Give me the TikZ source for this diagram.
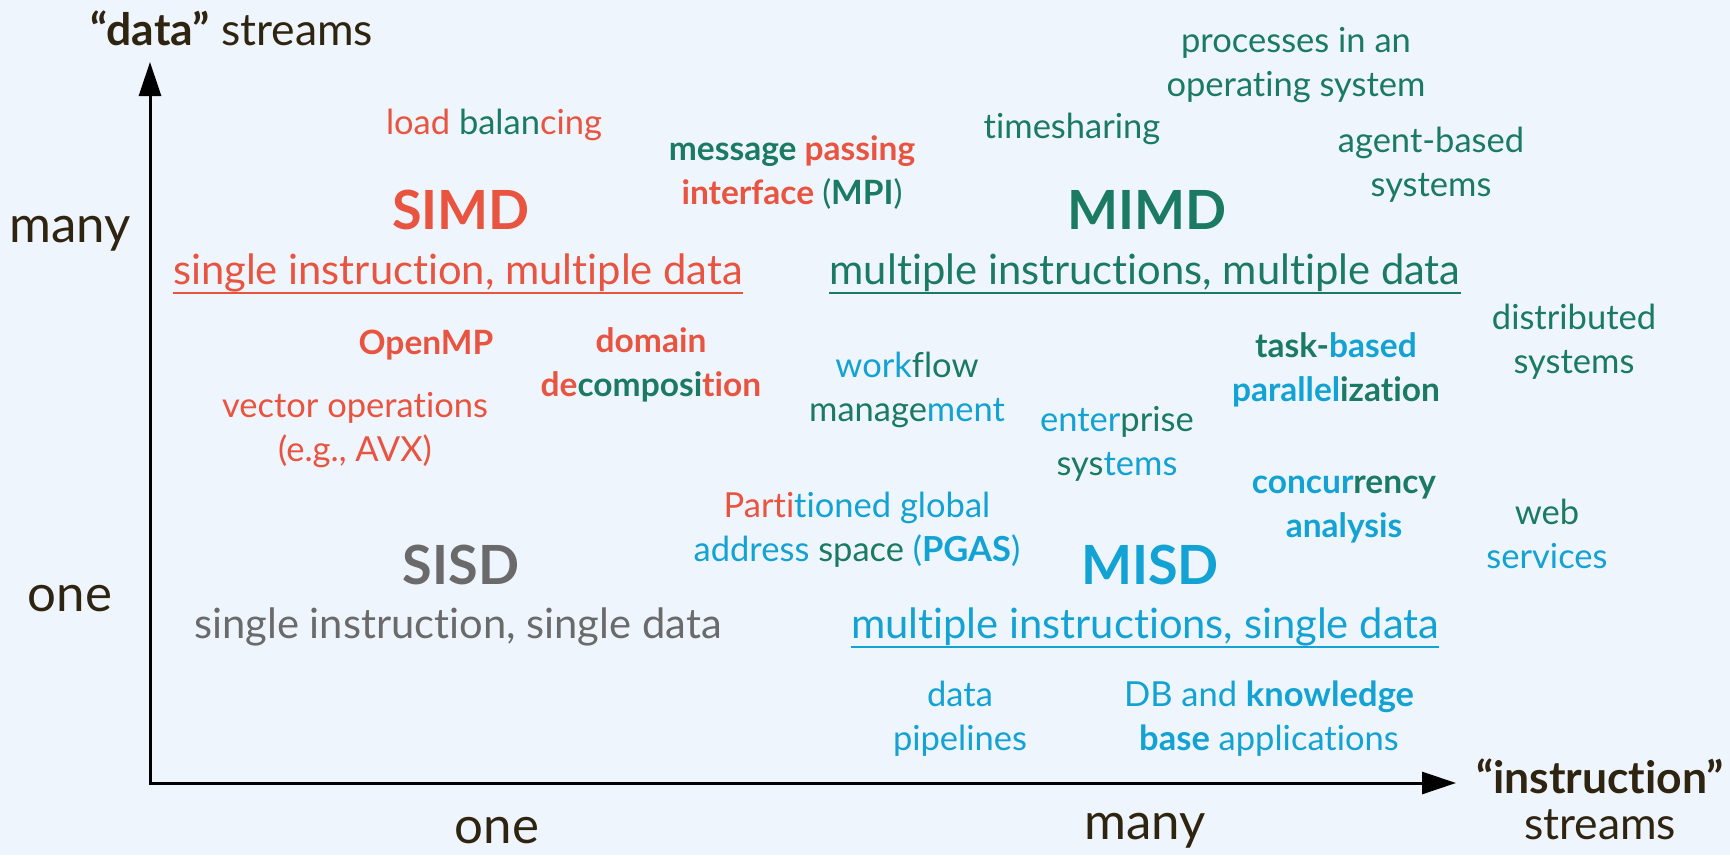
\documentclass[tikz,border=0pt]{standalone}
\usepackage{fontspec}
\setmainfont[Ligatures={NoCommon}]{Lato}
\usetikzlibrary{arrows.meta}
\definecolor{bgc}{HTML}{EFF5FD}
\definecolor{cred}{HTML}{E8543F}
\definecolor{cgrn}{HTML}{1A7A62}
\definecolor{cblu}{HTML}{12A2D4}
\definecolor{cgry}{HTML}{6A6A6A}
\definecolor{cdrk}{HTML}{2F2410}
\newcommand{\cR}[1]{{\color{cred}#1}}
\newcommand{\cG}[1]{{\color{cgrn}#1}}
\newcommand{\cB}[1]{{\color{cblu}#1}}
\begin{document}
\begin{tikzpicture}[x=1pt,y=-1pt,
  txt/.style={inner sep=0pt, align=center, font=\fontsize{34.5}{44}\selectfont},
  btxt/.style={txt, font=\fontsize{33.5}{44}\selectfont\bfseries},
  head/.style={inner sep=0pt, font=\fontsize{54}{60}\selectfont\bfseries},
  sub/.style={inner sep=0pt, font=\fontsize{41.7}{44}\selectfont},
  axlab/.style={inner sep=0pt, align=center, text=cdrk, font=\fontsize{44.5}{46}\selectfont},
  axval/.style={inner sep=0pt, text=cdrk, font=\fontsize{51}{52}\selectfont},
  axis/.style={line width=3pt, line join=miter,
    {Triangle[length=34pt,width=22pt]}-{Triangle[length=34pt,width=22pt]}},
  uline/.style={line width=2pt}]
\fill[bgc] (0,0) rectangle (1730,855);
\useasboundingbox (0,0) rectangle (1730,855);

% axes
\coordinate (ytip) at (150,62);
\coordinate (origin) at (150,783);
\coordinate (xtip) at (1456,783);
\draw[axis] (ytip) -- (origin) -- (xtip);

% axis labels
\node[axlab] (ylab) at (232,28) {\textbf{“data”} streams};
\node[axlab] (xlab) at (1600,799) {\textbf{“instruction”}\\streams};
\node[axval] (ymany) at (70,234) {many};
\node[axval] (yone) at (70,599) {one};
\node[axval] (xone) at (497,831) {one};
\node[axval] (xmany) at (1145,831) {many};

% quadrant headings
\node[head, text=cred] (simd) at (461,210) {SIMD};
\node[head, text=cgrn] (mimd) at (1147,210) {MIMD};
\node[head, text=cgry] (sisd) at (461,565) {SISD};
\node[head, text=cblu] (misd) at (1150,565) {MISD};

\node[sub, text=cred] (simdsub) at (458,273) {single instruction, multiple data};
\node[sub, text=cgrn] (mimdsub) at (1145,273) {multiple instructions, multiple data};
\node[sub, text=cgry] (sisdsub) at (458,627) {single instruction, single data};
\node[sub, text=cblu] (misdsub) at (1145,627) {multiple instructions, single data};
\draw[uline, cred] ([yshift=-8pt]simdsub.base west) -- ([yshift=-8pt]simdsub.base east);
\draw[uline, cgrn] ([yshift=-8pt]mimdsub.base west) -- ([yshift=-8pt]mimdsub.base east);
\draw[uline, cblu] ([yshift=-8pt]misdsub.base west) -- ([yshift=-8pt]misdsub.base east);

% examples
\node[txt] (lb) at (494,125) {\cR{load }\cG{balan}\cR{cing}};
\node[btxt] (mpi) at (792,173) {\cG{message }\cR{passing}\\\cR{interface }\cG{\mdseries(}\cG{MPI}\cG{\mdseries)}};
\node[txt, text=cgrn] (ts) at (1072,129) {timesharing};
\node[txt, text=cgrn] (proc) at (1296,65) {processes in an\\operating system};
\node[txt, text=cgrn] (agent) at (1431,165) {agent-based\\systems};
\node[btxt, text=cred] (omp) at (426,345) {OpenMP};
\node[btxt] (dd) at (651,365) {\cR{domain}\\\cR{de}\cG{composi}\cR{tion}};
\node[txt] (wf) at (907,390) {\cB{work}\cG{flow}\\\cG{manage}\cB{ment}};
\node[txt, text=cred] (vec) at (355,430) {vector operations\\(e.g., AVX)};
\node[txt] (ent) at (1117,444) {\cB{enter}\cG{prise}\\\cG{sys}\cB{tems}};
\node[btxt] (task) at (1336,370) {\cG{task-}\cB{based}\\\cB{parallel}\cG{ization}};
\node[txt, text=cgrn] (dist) at (1574,342) {distributed\\systems};
\node[btxt] (conc) at (1344,510) {\cB{concur}\cG{rency}\\\cB{analysis}};
\node[txt] (web) at (1547,534) {\cG{web}\\\cB{services}};
\node[txt] (pgas) at (857,530) {\cR{Parti}\cB{tioned global}\\\cB{address }\cG{space }\cB{(\textbf{PGAS})}};
\node[txt, text=cblu] (pipe) at (960,719) {data\\pipelines};
\node[txt, text=cblu] (kb) at (1269,719) {DB and \textbf{knowledge}\\\textbf{base} applications};
\end{tikzpicture}
\end{document}
